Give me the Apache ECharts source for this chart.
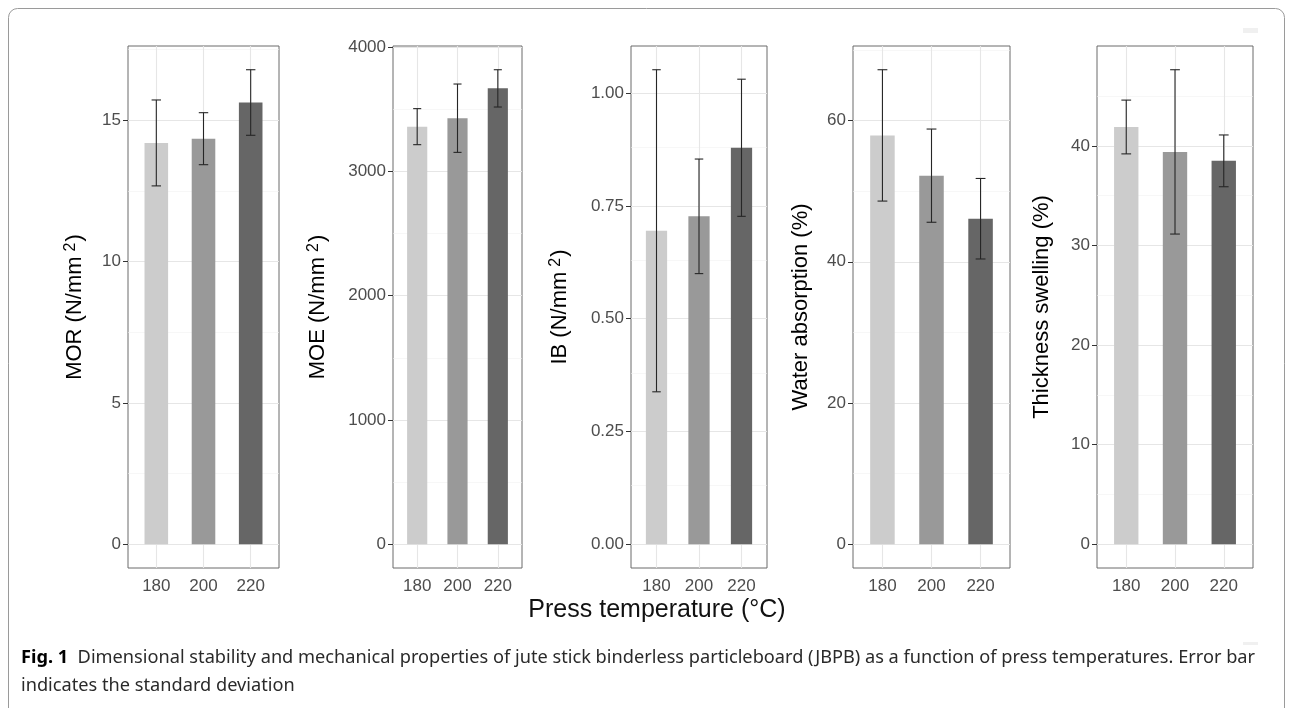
<!DOCTYPE html>
<html>
<head>
<meta charset="utf-8">
<script src="https://cdn.jsdelivr.net/npm/echarts@6/dist/echarts.min.js"></script>
<style>
  html, body { margin: 0; padding: 0; background: #fff; }
  #chart { width: 1293px; height: 708px; }
</style>
</head>
<body>
<div id="chart"></div>
<script>
// press temperatures (x categories) and bar fills
const temps = ['180', '200', '220'];
const barColors = ['#cccccc', '#999999', '#666666'];

// means and standard deviations
const morMean = [14.2, 14.35, 15.63];
const morSd = [1.52, 0.92, 1.16];
const moeMean = [3360, 3428, 3668];
const moeSd = [145, 275, 150];
const ibMean = [0.695, 0.727, 0.879];
const ibSd = [0.357, 0.127, 0.152];
const waMean = [57.9, 52.2, 46.1];
const waSd = [9.3, 6.6, 5.7];
const tsMean = [41.9, 39.4, 38.5];
const tsSd = [2.7, 8.25, 2.6];

// y tick labels (major) and minor grid values
const morTicks = [0, 5, 10, 15];
const morMinor = [2.5, 7.5, 12.5, 17.5];
const moeTicks = [0, 1000, 2000, 3000, 4000];
const moeMinor = [500, 1500, 2500, 3500];
const ibTicks = [0, 0.25, 0.5, 0.75, 1.0];
const ibMinor = [0.125, 0.375, 0.625, 0.875];
const waTicks = [0, 20, 40, 60];
const waMinor = [10, 30, 50, 70];
const tsTicks = [0, 10, 20, 30, 40];
const tsMinor = [5, 15, 25, 35, 45];

const FONT = 'Liberation Sans';

const panels = [
  {name: '{t|MOR (N/mm}{s|2}{t|)}', mean: morMean, sd: morSd, ticks: morTicks, minor: morMinor,
   left: 128, width: 151, gap: 41, fmt: v => String(v)},
  {name: '{t|MOE (N/mm}{s|2}{t|)}', mean: moeMean, sd: moeSd, ticks: moeTicks, minor: moeMinor,
   left: 393, width: 129, gap: 63, fmt: v => String(v)},
  {name: '{t|IB (N/mm}{s|2}{t|)}', mean: ibMean, sd: ibSd, ticks: ibTicks, minor: ibMinor,
   left: 631, width: 136, gap: 59, fmt: v => v.toFixed(2)},
  {name: '{t|Water absorption (%)}', mean: waMean, sd: waSd, ticks: waTicks, minor: waMinor,
   left: 853, width: 157, gap: 41, fmt: v => String(v)},
  {name: '{t|Thickness swelling (%)}', mean: tsMean, sd: tsSd, ticks: tsTicks, minor: tsMinor,
   left: 1097, width: 156, gap: 44, fmt: v => String(v)}
];

const TOP = 46, HEIGHT = 522;

function renderErr(params, api) {
  const x = api.value(0);
  const lo = api.coord([x, api.value(1)]);
  const hi = api.coord([x, api.value(2)]);
  const half = api.size([0.1, 0])[0];
  const style = {stroke: '#262626', lineWidth: 1.1, fill: null};
  return {
    type: 'group',
    children: [
      {type: 'line', shape: {x1: lo[0], y1: hi[1], x2: lo[0], y2: lo[1]}, style: style},
      {type: 'line', shape: {x1: lo[0] - half, y1: hi[1], x2: lo[0] + half, y2: hi[1]}, style: style},
      {type: 'line', shape: {x1: lo[0] - half, y1: lo[1], x2: lo[0] + half, y2: lo[1]}, style: style}
    ]
  };
}

const grid = [], xAxis = [], yAxis = [], series = [];

panels.forEach((p, i) => {
  const tops = p.mean.map((m, k) => m + p.sd[k]);
  const hiVal = Math.max(...tops);
  // ggplot style 5% expansion
  const yMin = -0.05 * hiVal, yMax = hiVal * 1.05;

  grid.push({left: p.left, top: TOP, width: p.width, height: HEIGHT, show: true,
    borderColor: '#6a6a6a', borderWidth: 1, backgroundColor: 'transparent'});

  xAxis.push({
    type: 'value', gridIndex: i, min: 0.4, max: 3.6,
    axisLine: {show: false},
    axisTick: {show: true, length: 5, lineStyle: {color: '#333', width: 1}, customValues: [1, 2, 3]},
    axisLabel: {customValues: [1, 2, 3], formatter: v => temps[Math.round(v) - 1],
      color: '#4d4d4d', fontSize: 17, fontFamily: FONT, margin: 10},
    splitLine: {show: false}
  });

  yAxis.push({
    type: 'value', gridIndex: i, min: yMin, max: yMax,
    name: p.name, nameLocation: 'middle', nameGap: p.gap, nameRotate: 90,
    nameTextStyle: {
      rich: {
        t: {fontSize: 22, fontFamily: FONT, color: '#000'},
        s: {fontSize: 16, fontFamily: FONT, color: '#000', verticalAlign: 'top', padding: [0, 1, 8, 5]}
      }
    },
    axisLine: {show: false},
    axisTick: {show: true, length: 5, lineStyle: {color: '#333', width: 1}, customValues: p.ticks},
    axisLabel: {customValues: p.ticks, formatter: v => p.fmt(v),
      color: '#4d4d4d', fontSize: 17, fontFamily: FONT, margin: 7},
    splitLine: {show: false}
  });

  const majorStyle = {color: '#e6e6e6', width: 1.1, type: 'solid'};
  const minorStyle = {color: '#f1f1f1', width: 0.6, type: 'solid'};
  const gridLines = []
    .concat(p.ticks.map(v => ({yAxis: v, lineStyle: majorStyle})))
    .concat(p.minor.filter(v => v < yMax).map(v => ({yAxis: v, lineStyle: minorStyle})))
    .concat([1, 2, 3].map(v => ({xAxis: v, lineStyle: majorStyle})));

  series.push({
    type: 'bar', xAxisIndex: i, yAxisIndex: i, z: 10,
    barWidth: p.width / 3.2 * 0.5,
    data: p.mean.map((m, k) => ({value: [k + 1, m], itemStyle: {color: barColors[k]}})),
    markLine: {silent: true, symbol: 'none', label: {show: false}, animation: false, z: 1,
      data: gridLines},
    animation: false
  });

  series.push({
    type: 'custom', xAxisIndex: i, yAxisIndex: i, z: 12,
    renderItem: renderErr,
    data: p.mean.map((m, k) => [k + 1, m - p.sd[k], m + p.sd[k]]),
    animation: false
  });
});

const chart = echarts.init(document.getElementById('chart'));
chart.setOption({
  animation: false,
  grid: grid,
  xAxis: xAxis,
  yAxis: yAxis,
  series: series,
  graphic: [
    {type: 'rect', shape: {x: 8.5, y: 8.5, width: 1276, height: 760, r: 9},
      style: {fill: null, stroke: '#9a9a9a', lineWidth: 1}, silent: true},
    {type: 'rect', shape: {x: 1243, y: 28, width: 15, height: 5}, style: {fill: '#f0f0f0'}, silent: true},
    {type: 'rect', shape: {x: 1243, y: 642, width: 15, height: 3}, style: {fill: '#f0f0f0'}, silent: true},
    {type: 'text', x: 657, y: 610, silent: true,
      style: {text: 'Press temperature (°C)', fontFamily: FONT, fontSize: 25, fill: '#111',
        align: 'center', verticalAlign: 'middle'}},
    {type: 'text', x: 21, y: 644, silent: true,
      style: {
        text: '{b|Fig. 1}  Dimensional stability and mechanical properties of jute stick binderless particleboard (JBPB) as a function of press temperatures. Error bar\nindicates the standard deviation',
        fontFamily: 'Noto Sans', fontSize: 18.2, fill: '#2a2a2a', lineHeight: 28,
        rich: {b: {fontFamily: 'Noto Sans', fontSize: 18.2, fontWeight: 'bold', fill: '#000', lineHeight: 28}}
      }}
  ]
});
</script>
</body>
</html>
